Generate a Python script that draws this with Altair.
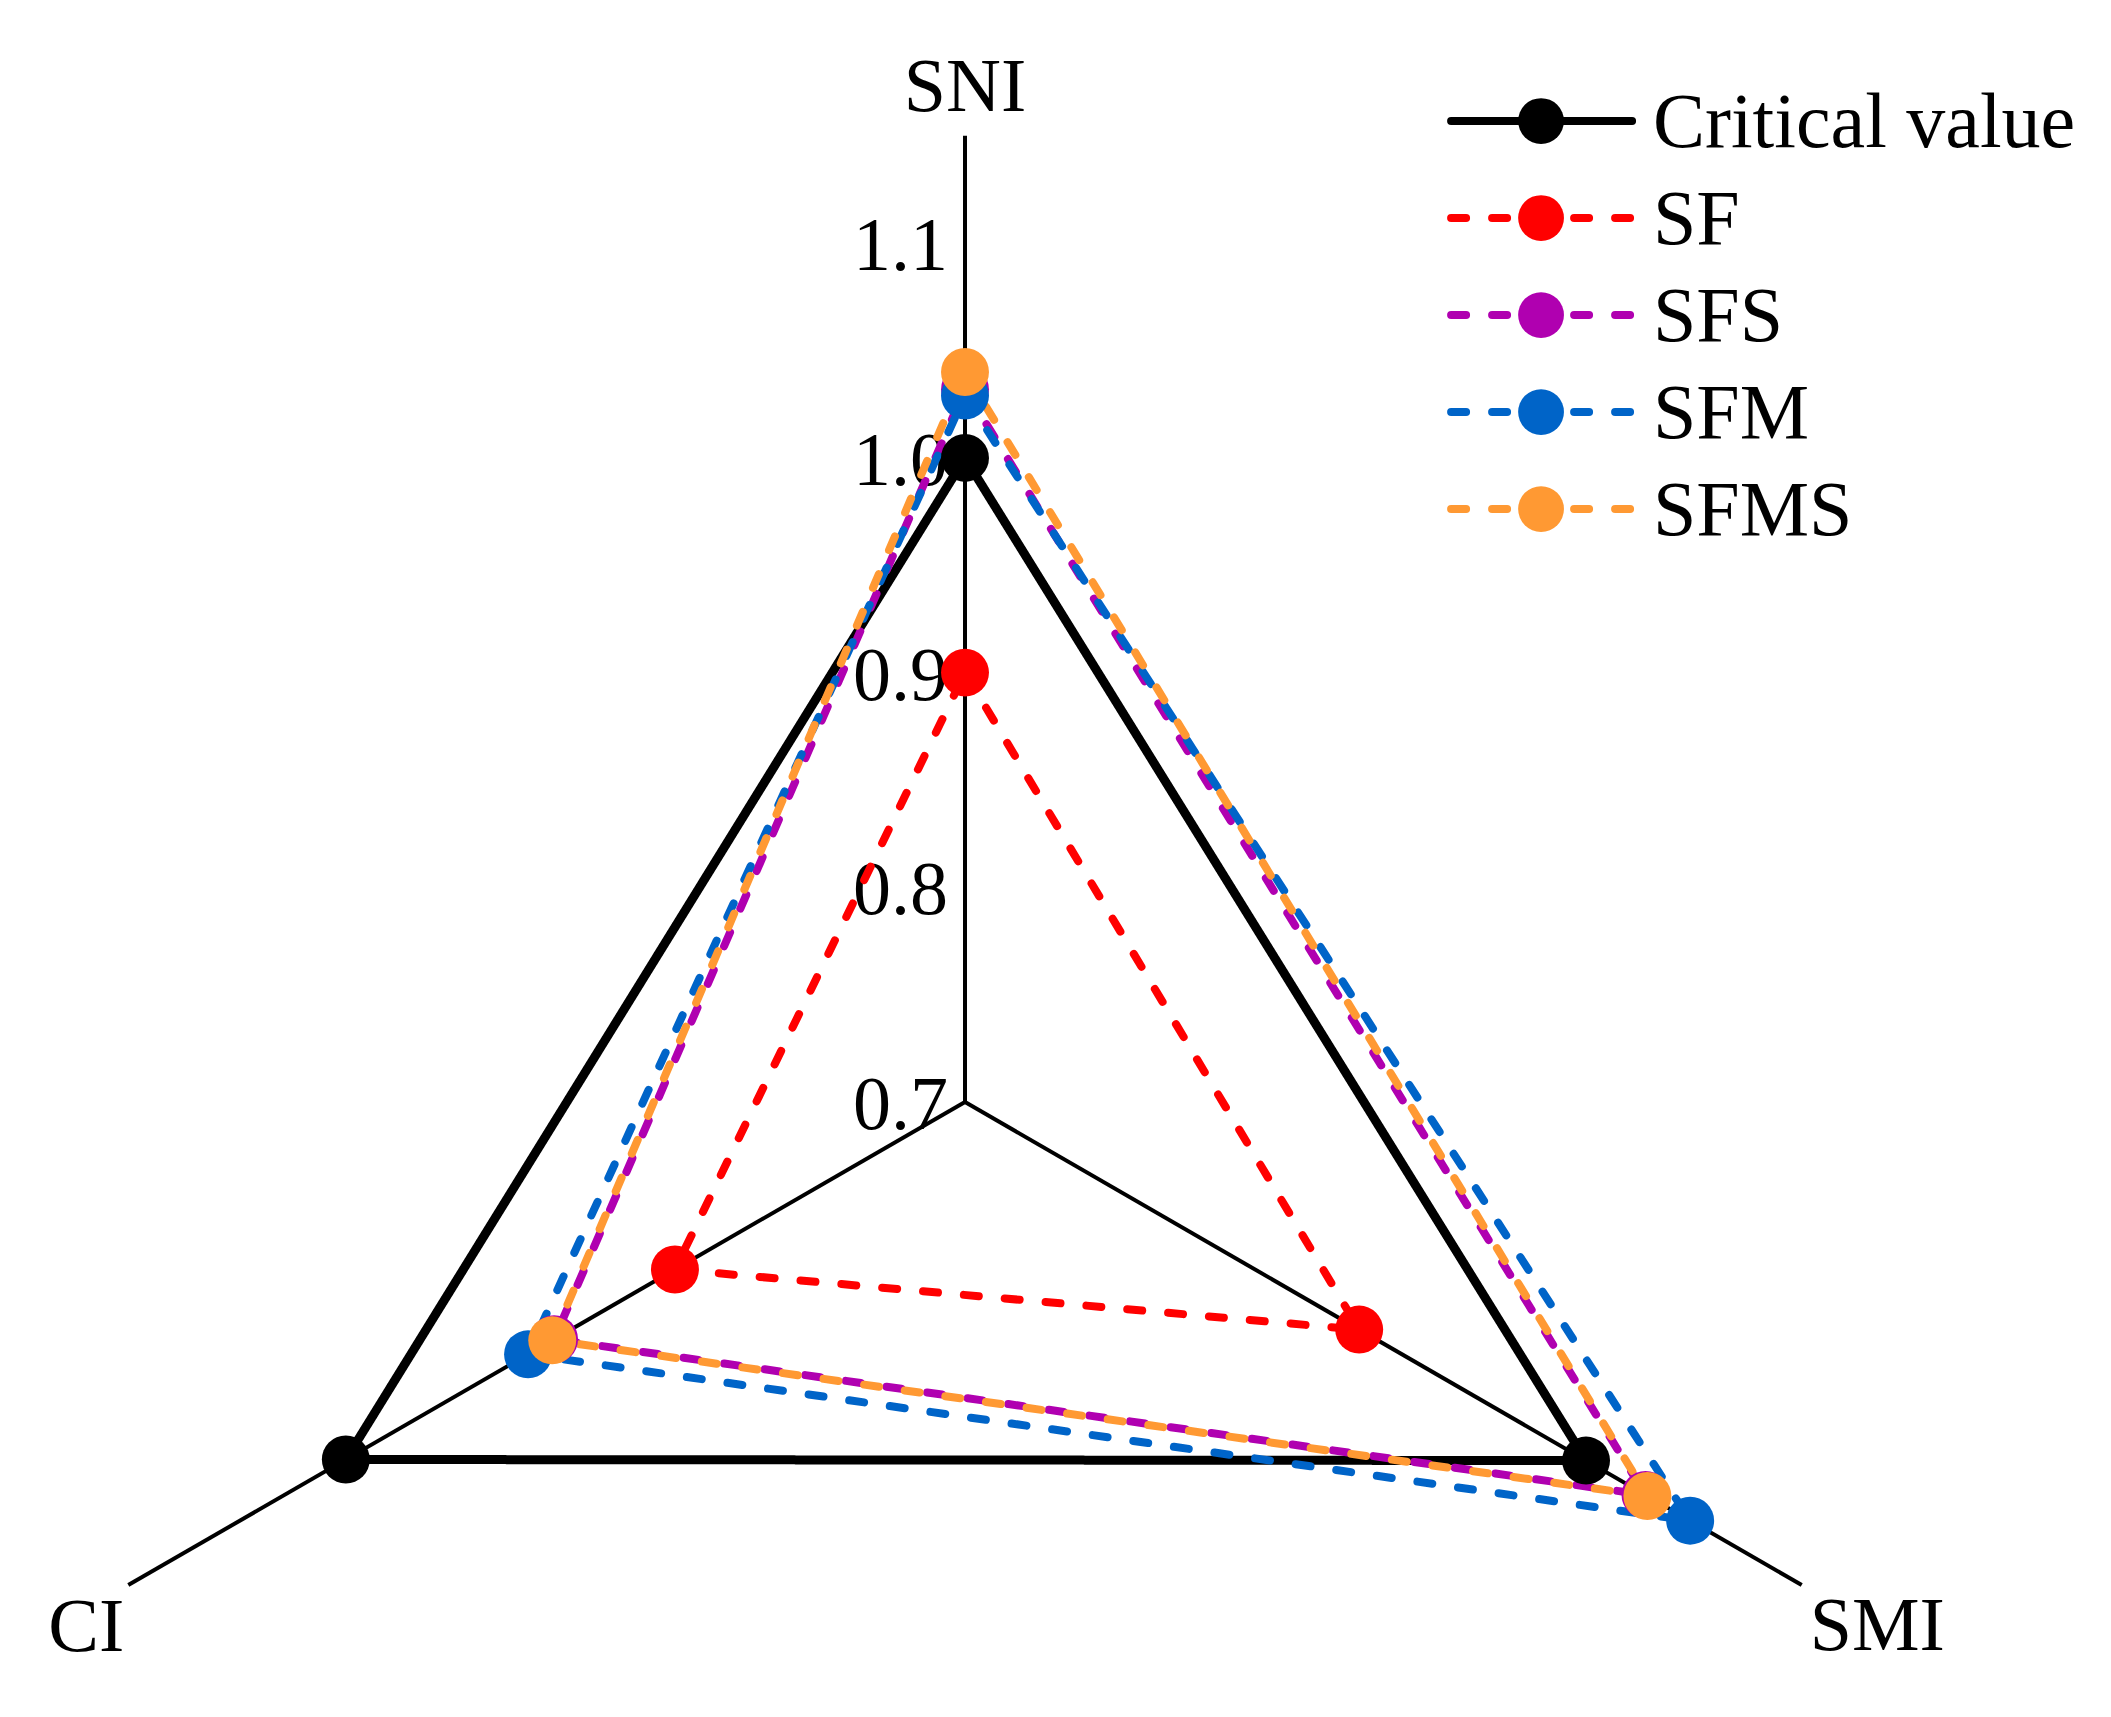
import altair as alt
import pandas as pd

# ---------------- data ----------------
axis_names = ["SNI", "SMI", "CI"]
series_names = ["Critical value", "SF", "SFS", "SFM", "SFMS"]
critical_vals = [1.000, 1.034, 1.033]
sf_vals = [0.900, 0.912, 0.856]
sfs_vals = [1.032, 1.066, 0.921]
sfm_vals = [1.029, 1.090, 0.935]
sfms_vals = [1.040, 1.067, 0.922]
tick_values = [0.7, 0.8, 0.9, 1.0, 1.1]
tick_labels = ["0.7", "0.8", "0.9", "1.0", "1.1"]

# ---------------- layout / style ----------------
R_MIN = 0.7
R_MAX = 1.15
ANGLES = {"SNI": 90, "SMI": -30, "CI": 210}
COLORS = ["#000000", "#FF0000", "#B000B0", "#0064C8", "#FF9933"]
DASHES = [[1, 0], [15, 26], [15, 26], [15, 26], [15, 26]]
WIDTHS = [9, 8, 8, 8, 8]
FONT = "Liberation Serif"
# label placement per axis: (align, dx, dy)
NAME_STYLE = {"SNI": ("center", 0, -48), "CI": ("right", -4, 43), "SMI": ("left", 8, 42)}

W, H = 2090, 1695
xscale = alt.Scale(domain=[-0.44574, 0.52771], nice=False, zero=False)
yscale = alt.Scale(domain=[-0.27992, 0.50955], nice=False, zero=False)

values = [critical_vals, sf_vals, sfs_vals, sfm_vals, sfms_vals]
rows = []
for s, name in enumerate(series_names):
    for k in range(4):
        a = axis_names[k % 3]
        rows.append({"series": name, "sidx": s, "axis": a,
                     "value": values[s][k % 3], "angle": ANGLES[a], "ord": k})
df = pd.DataFrame(rows)

axes_df = pd.DataFrame({"axis": axis_names, "angle": [ANGLES[a] for a in axis_names]})
ticks_df = pd.DataFrame({"value": tick_values, "label": tick_labels})
legend_df = pd.DataFrame({"series": series_names, "idx": list(range(len(series_names)))})


def polar(chart, rexpr, xname, yname):
    return (chart.transform_calculate(rad="datum.angle * PI / 180")
                 .transform_calculate(rr=rexpr)
                 .transform_calculate(**{xname: "datum.rr * cos(datum.rad)"})
                 .transform_calculate(**{yname: "datum.rr * sin(datum.rad)"}))


X = lambda f: alt.X(f, scale=xscale, axis=None)
Y = lambda f: alt.Y(f, scale=yscale, axis=None)
color_enc = alt.Color("series:N", scale=alt.Scale(domain=series_names, range=COLORS), legend=None)

# axis spokes
spokes = polar(alt.Chart(axes_df), f"{R_MAX} - {R_MIN}", "ex", "ey").transform_calculate(
    cx="0", cy="0").mark_rule(color="black", strokeWidth=4).encode(
    x=X("cx:Q"), y=Y("cy:Q"), x2="ex:Q", y2="ey:Q")

# axis name labels (at the spoke ends)
name_layers = []
for a in axis_names:
    al, dx, dy = NAME_STYLE[a]
    name_layers.append(
        polar(alt.Chart(axes_df).transform_filter(f"datum.axis == '{a}'"),
              f"{R_MAX} - {R_MIN}", "nx", "ny").mark_text(
            font=FONT, fontSize=76, color="black", align=al, baseline="middle", dx=dx, dy=dy).encode(
            x=X("nx:Q"), y=Y("ny:Q"), text="axis:N"))

# radial tick labels on SNI axis
ticks = alt.Chart(ticks_df).transform_calculate(
    tx="0", ty=f"datum.value - {R_MIN}").mark_text(
    font=FONT, fontSize=76, color="black", align="right", baseline="middle", dx=-17, dy=4).encode(
    x=X("tx:Q"), y=Y("ty:Q"), text="label:N")

# series polygons
lines = []
for s, name in enumerate(series_names):
    ln = polar(alt.Chart(df).transform_filter(f"datum.sidx == {s}"),
               f"datum.value - {R_MIN}", "px", "py").mark_line(
        color=COLORS[s], strokeDash=DASHES[s], strokeWidth=WIDTHS[s],
        strokeCap="round", strokeJoin="round").encode(
        x=X("px:Q"), y=Y("py:Q"), order="ord:Q")
    lines.append(ln)

points = polar(alt.Chart(df).transform_filter("datum.ord < 3"),
               f"datum.value - {R_MIN}", "px", "py").mark_point(
    filled=True, size=2300, opacity=1, strokeWidth=0).encode(
    x=X("px:Q"), y=Y("py:Q"), color=color_enc)

# manual legend
leg = alt.Chart(legend_df).transform_calculate(
    ly="0.4569 - datum.idx * 0.04518", lx1="0.2264", lx2="0.3107", lc="0.2683", lt="0.3204")
leg_lines = leg.mark_rule(strokeWidth=8, strokeCap="round").encode(
    x=X("lx1:Q"), x2="lx2:Q", y=Y("ly:Q"), color=color_enc,
    strokeDash=alt.StrokeDash("series:N", scale=alt.Scale(domain=series_names, range=DASHES), legend=None))
leg_pts = leg.mark_point(filled=True, size=2100, opacity=1, strokeWidth=0).encode(
    x=X("lc:Q"), y=Y("ly:Q"), color=color_enc)
leg_txt = leg.mark_text(font=FONT, fontSize=78, color="black", align="left", baseline="middle", dy=3).encode(
    x=X("lt:Q"), y=Y("ly:Q"), text="series:N")

chart = alt.layer(spokes, *name_layers, ticks, *lines, points, leg_lines, leg_pts, leg_txt).properties(
    width=W, height=H, padding=0, autosize=alt.AutoSizeParams(type="none")
).configure_view(stroke=None)

chart.save("out.html", embed_options={"renderer": "svg", "actions": False})
